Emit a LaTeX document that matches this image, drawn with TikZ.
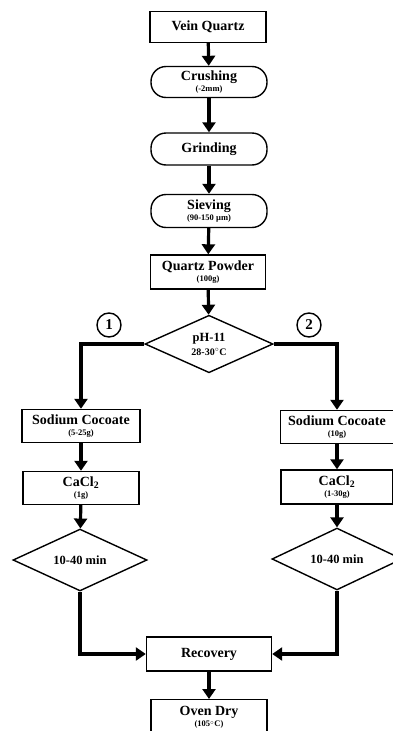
\documentclass[tikz,border=0pt]{standalone}
\usepackage{fontspec}
\setmainfont{Liberation Serif}
\usetikzlibrary{shapes.geometric,arrows.meta}
\tikzset{
  box/.style={draw,line width=1.4pt,minimum width=116pt,minimum height=31pt,inner sep=1pt,align=center,font=\bfseries\fontsize{14}{14}\selectfont},
  pill/.style={box,rounded corners=15pt},
  dia/.style={draw,diamond,line width=1.4pt,inner sep=0pt,align=center,font=\bfseries\fontsize{12.5}{13}\selectfont},
  num/.style={draw,circle,line width=1.4pt,minimum size=24pt,inner sep=0pt,font=\bfseries\fontsize{15}{15}\selectfont},
  flow/.style={line width=3.2pt,-{Triangle[length=10pt,width=13pt]}},
}
\newcommand{\subl}[1]{\\[-3pt]{\fontsize{8.5}{9}\selectfont #1}}
\begin{document}
\begin{tikzpicture}[x=1pt,y=-1pt]
\useasboundingbox (0,0) rectangle (393,731);
\node[box] (vq) at (208,27) {Vein Quartz};
\node[pill] (cr) at (209,82) {Crushing\subl{(-2mm)}};
\node[pill,minimum height=32pt] (gr) at (209,149) {Grinding};
\node[pill,minimum height=33pt] (sv) at (209,211) {Sieving\subl{(90-150 µm)}};
\node[box,minimum width=115pt,minimum height=34pt] (qp) at (208,272) {Quartz Powder\subl{(100g)}};
\node[dia,minimum width=128pt,minimum height=55pt] (ph) at (209,344) {pH-11\\[1pt]{\fontsize{10}{11}\selectfont 28-30$^{\circ}$C}};
\node[num] (n1) at (109,325) {1};
\node[num] (n2) at (309,325) {2};
\node[box,minimum width=118pt,minimum height=33pt] (sc1) at (81,426) {Sodium Cocoate\subl{(5-25g)}};
\node[box,minimum width=113pt,minimum height=33pt] (sc2) at (337,427) {Sodium Cocoate\subl{(10g)}};
\node[box,minimum height=33pt] (ca1) at (81,488) {CaCl\textsubscript{2}\subl{(1g)}};
\node[box,minimum width=112pt,minimum height=34pt] (ca2) at (337,487) {CaCl\textsubscript{2}\subl{(1-30g)}};
\node[dia,minimum width=134pt,minimum height=56pt] (t1) at (80,560) {10-40 min};
\node[dia,minimum width=130pt,minimum height=56pt] (t2) at (337,559) {10-40 min};
\node[box,minimum width=125pt,minimum height=34pt] (rc) at (209,654) {Recovery};
\node[box,minimum height=36pt,anchor=north] (od) at (209,699) {Oven Dry\subl{(105$^{\circ}$C)}};
\draw[flow] (vq) -- (cr);
\draw[flow] (cr) -- (gr);
\draw[flow] (gr) -- (sv);
\draw[flow] (sv) -- (qp);
\draw[flow] (qp) -- (ph);
\draw[flow] (ph.west) -| (sc1.north);
\draw[flow] (ph.east) -| (sc2.north);
\draw[flow] (sc1) -- (ca1);
\draw[flow] (sc2) -- (ca2);
\draw[flow] (ca1) -- (t1);
\draw[flow] (ca2) -- (t2);
\draw[flow] (t1.south) |- (rc.west);
\draw[flow] (t2.south) |- (rc.east);
\draw[flow] (rc) -- (od);
\end{tikzpicture}
\end{document}
